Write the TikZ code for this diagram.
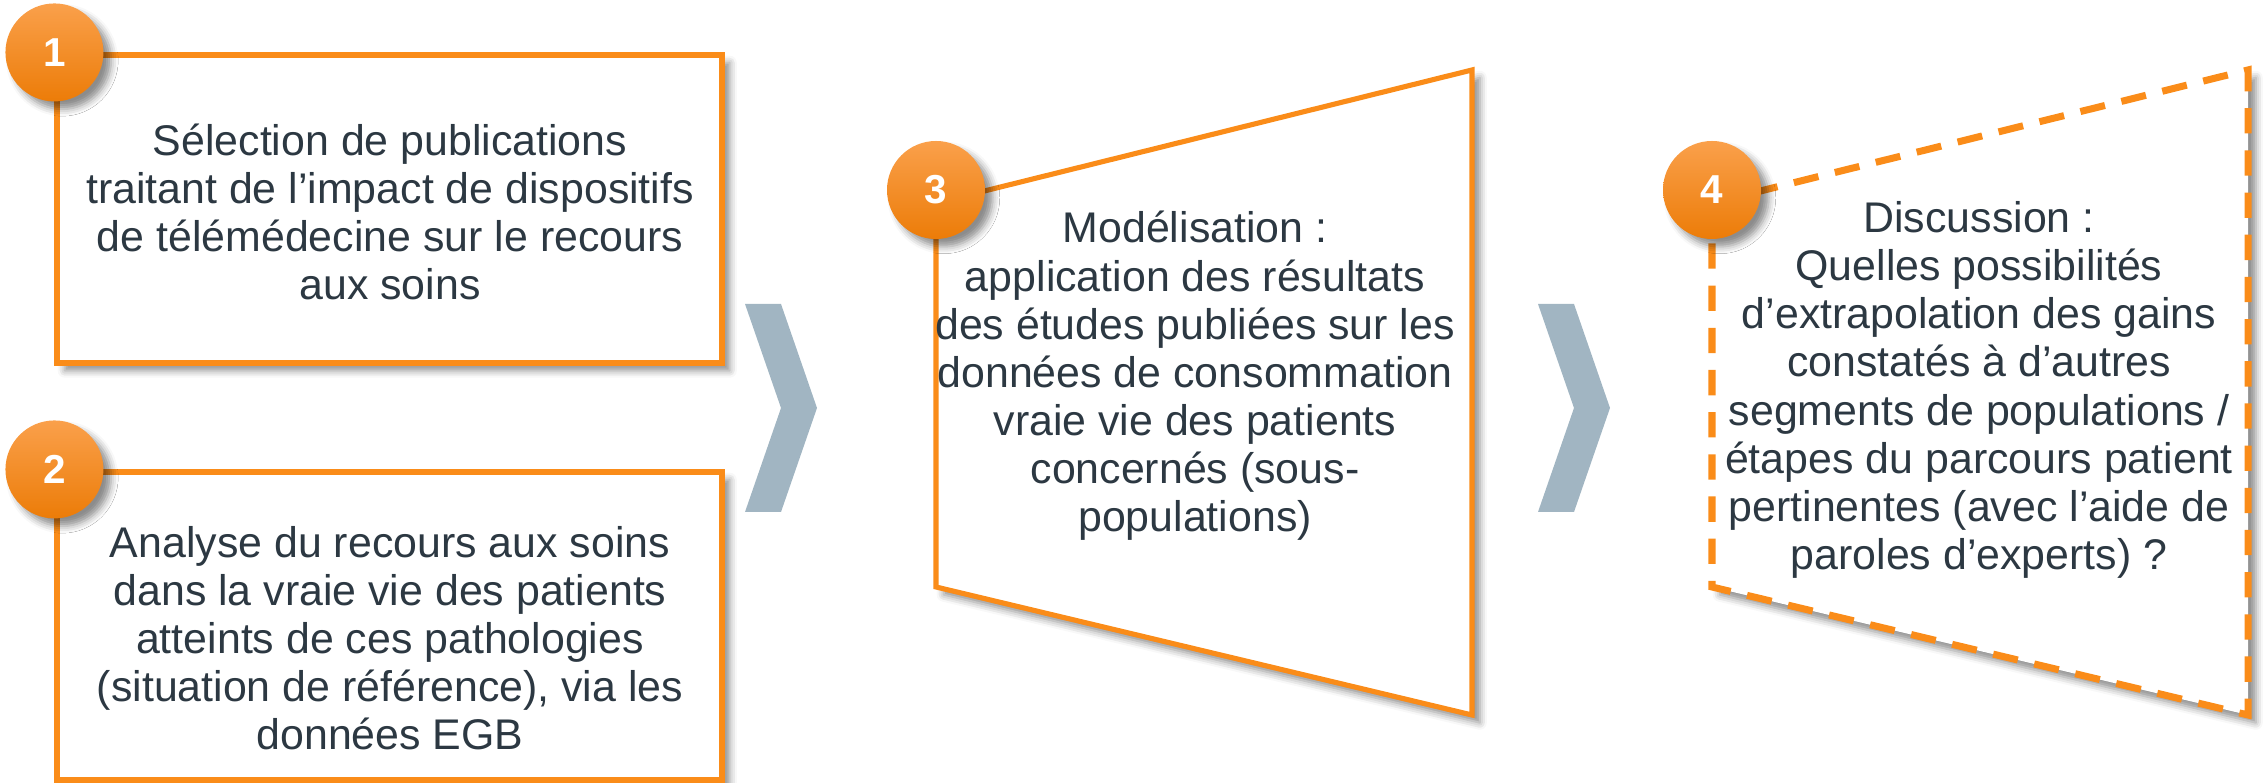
\documentclass[tikz,border=0pt]{standalone}
\usepackage{fontspec}
\setmainfont{Liberation Sans}
\usetikzlibrary{calc,shadows.blur}

\definecolor{stepline}{RGB}{250,140,25}
\definecolor{circtop}{RGB}{250,160,75}
\definecolor{circbot}{RGB}{236,124,8}
\definecolor{txtgray}{RGB}{44,56,66}
\definecolor{chevgray}{RGB}{161,181,194}

\tikzset{
    softshadow/.style={blur shadow={shadow xshift=2.2pt, shadow yshift=-2.2pt, shadow blur radius=2pt, shadow opacity=45}},
    stepbox/.style={draw=stepline, line width=1.45pt, fill=white, softshadow, inner sep=0pt},
    steptext/.style={align=center, text=txtgray, font=\fontsize{12.2}{13.7}\selectfont},
    stepnum/.style={circle, minimum size=0.98cm, inner sep=0pt, top color=circtop, bottom color=circbot,
        text=white, font=\fontsize{11.5}{13}\selectfont\bfseries, softshadow}
}

\begin{document}
\begin{tikzpicture}
        \useasboundingbox (0,0) rectangle (22.65,7.83);

        % left column
        \node (box1) [stepbox, minimum width=6.65cm, minimum height=3.08cm] at (3.895,5.74) {};
        \node (box2) [stepbox, minimum width=6.65cm, minimum height=3.08cm] at (3.895,1.57) {};
        \node (txt1) [steptext] at (3.90,5.71) {S\'election de publications\\traitant de l’impact de dispositifs\\de t\'el\'em\'edecine sur le recours\\aux soins};
        \node (txt2) [steptext] at (3.90,1.45) {Analyse du recours aux soins\\dans la vraie vie des patients\\atteints de ces pathologies\\(situation de r\'ef\'erence), via les\\donn\'ees EGB};

        % chevrons
        \foreach \x in {7.45,15.38}
            \fill[chevgray] (\x,4.79) -- ++(0.36,0) -- ++(0.36,-1.04) -- ++(-0.36,-1.04)
                -- ++(-0.36,0) -- ++(0.36,1.04) -- cycle;

        % modelling step
        \coordinate (m3a) at (9.36,5.80);
        \coordinate (m3b) at (14.72,7.13);
        \coordinate (m3c) at (14.72,0.68);
        \coordinate (m3d) at (9.36,1.96);
        \path[stepbox] (m3a) -- (m3b) -- (m3c) -- (m3d) -- cycle;
        \node (txt3) [steptext] at (11.95,4.07) {Mod\'elisation :\\application des r\'esultats\\des \'etudes publi\'ees sur les\\donn\'ees de consommation\\vraie vie des patients\\concern\'es (sous-\\populations)};

        % discussion step
        \coordinate (m4a) at (17.12,5.80);
        \coordinate (m4b) at (22.48,7.13);
        \coordinate (m4c) at (22.48,0.68);
        \coordinate (m4d) at (17.12,1.96);
        \path[stepbox, line width=2pt, dash pattern=on 7.2pt off 4.8pt] (m4a) -- (m4b) -- (m4c) -- (m4d) -- cycle;
        \node (txt4) [steptext] at (19.79,3.93) {Discussion :\\Quelles possibilit\'es\\d’extrapolation des gains\\constat\'es \`a d’autres\\segments de populations /\\\'etapes du parcours patient\\pertinentes (avec l’aide de\\paroles d’experts) ?};

        % numbers
        \node (num1) [stepnum] at (box1.north west) {1};
        \node (num2) [stepnum] at (box2.north west) {2};
        \node (num3) [stepnum] at ($(m3a)+(0,0.13)$) {3};
        \node (num4) [stepnum] at ($(m4a)+(0,0.13)$) {4};
\end{tikzpicture}
\end{document}
